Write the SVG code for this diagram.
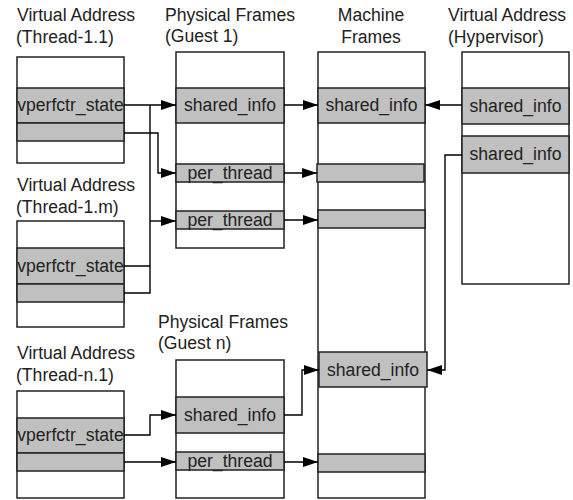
<svg xmlns="http://www.w3.org/2000/svg" width="573" height="500" viewBox="0 0 573 500">
<style>
.box{fill:#fff;stroke:#222;stroke-width:1.5}
.band{fill:#c0c0c0;stroke:#222;stroke-width:1.5}
.t{font-family:"Liberation Sans",Arial,Helvetica,sans-serif;font-size:17.6px;fill:#222}
.c{text-anchor:middle}
.ln{fill:none;stroke:#000;stroke-width:1.4}
</style>
<defs>
<marker id="ah" markerUnits="userSpaceOnUse" markerWidth="16" markerHeight="10" refX="15" refY="5" orient="auto">
<path d="M0,0 L15,5 L0,10 Z" fill="#000"/>
</marker>
</defs>
<rect width="573" height="500" fill="#fff"/>

<g id="va-thread-1-1">
<text class="t" x="17" y="21">Virtual Address</text>
<text class="t" x="16" y="43">(Thread-1.1)</text>
<rect class="box" x="17" y="57" width="107" height="106"/>
<rect class="band" x="17" y="88" width="107" height="35"/>
<rect class="band" x="17" y="123" width="107" height="18"/>
<text class="t c" x="70.5" y="111">vperfctr_state</text>
</g>

<g id="va-thread-1-m">
<text class="t" x="17" y="191">Virtual Address</text>
<text class="t" x="16" y="213">(Thread-1.m)</text>
<rect class="box" x="17" y="221" width="107" height="106"/>
<rect class="band" x="17" y="248" width="107" height="36"/>
<rect class="band" x="17" y="284" width="107" height="18"/>
<text class="t c" x="70.5" y="272">vperfctr_state</text>
</g>

<g id="va-thread-n-1">
<text class="t" x="17" y="359">Virtual Address</text>
<text class="t" x="16" y="381">(Thread-n.1)</text>
<rect class="box" x="17" y="391" width="107" height="107"/>
<rect class="band" x="17" y="418" width="107" height="35"/>
<rect class="band" x="17" y="453" width="107" height="18"/>
<text class="t c" x="70.5" y="441">vperfctr_state</text>
</g>

<g id="pf-guest-1">
<text class="t" x="165" y="21">Physical Frames</text>
<text class="t" x="165" y="42">(Guest 1)</text>
<rect class="box" x="176" y="52" width="108" height="196"/>
<rect class="band" x="176" y="88" width="108" height="35"/>
<rect class="band" x="176" y="164" width="108" height="18"/>
<rect class="band" x="176" y="211" width="108" height="18"/>
<text class="t c" x="230" y="111">shared_info</text>
<text class="t c" x="230" y="179">per_thread</text>
<text class="t c" x="230" y="226">per_thread</text>
</g>

<g id="pf-guest-n">
<text class="t" x="158" y="328">Physical Frames</text>
<text class="t" x="158" y="349">(Guest n)</text>
<rect class="box" x="176" y="360" width="108" height="138"/>
<rect class="band" x="176" y="397" width="108" height="36"/>
<rect class="band" x="176" y="452" width="108" height="18"/>
<text class="t c" x="230" y="421">shared_info</text>
<text class="t c" x="230" y="467">per_thread</text>
</g>

<g id="machine-frames">
<text class="t c" x="371" y="21">Machine</text>
<text class="t c" x="371" y="43">Frames</text>
<rect class="box" x="318" y="52" width="107" height="446"/>
<rect class="band" x="318" y="88" width="107" height="35"/>
<rect class="band" x="317" y="164" width="107" height="18"/>
<rect class="band" x="318" y="210" width="107" height="18"/>
<rect class="band" x="319" y="352" width="108" height="35"/>
<rect class="band" x="318" y="454" width="107" height="18"/>
<text class="t c" x="371.5" y="111">shared_info</text>
<text class="t c" x="373" y="376">shared_info</text>
</g>

<g id="va-hypervisor">
<text class="t" x="448" y="21">Virtual Address</text>
<text class="t" x="448" y="43">(Hypervisor)</text>
<rect class="box" x="462" y="52" width="107" height="232"/>
<rect class="band" x="462" y="88" width="107" height="36"/>
<rect class="band" x="462" y="136" width="107" height="37"/>
<text class="t c" x="515.5" y="112">shared_info</text>
<text class="t c" x="515.5" y="160">shared_info</text>
</g>

<g id="connectors">
<path class="ln" d="M124,105 H176" marker-end="url(#ah)"/>
<path class="ln" d="M124,266 H150 M124,293 H150 V105"/>
<path class="ln" d="M150,221 H176" marker-end="url(#ah)"/>
<path class="ln" d="M124,133 H158 V173 H176" marker-end="url(#ah)"/>
<path class="ln" d="M284,105 H318" marker-end="url(#ah)"/>
<path class="ln" d="M284,173 H317" marker-end="url(#ah)"/>
<path class="ln" d="M284,220 H318" marker-end="url(#ah)"/>
<path class="ln" d="M462,105 H425" marker-end="url(#ah)"/>
<path class="ln" d="M462,155 H445 V370 H427" marker-end="url(#ah)"/>
<path class="ln" d="M124,435 H150 V415 H176" marker-end="url(#ah)"/>
<path class="ln" d="M124,462 H176" marker-end="url(#ah)"/>
<path class="ln" d="M284,415 H302 V370 H319" marker-end="url(#ah)"/>
<path class="ln" d="M284,462 H318" marker-end="url(#ah)"/>
</g>
</svg>
